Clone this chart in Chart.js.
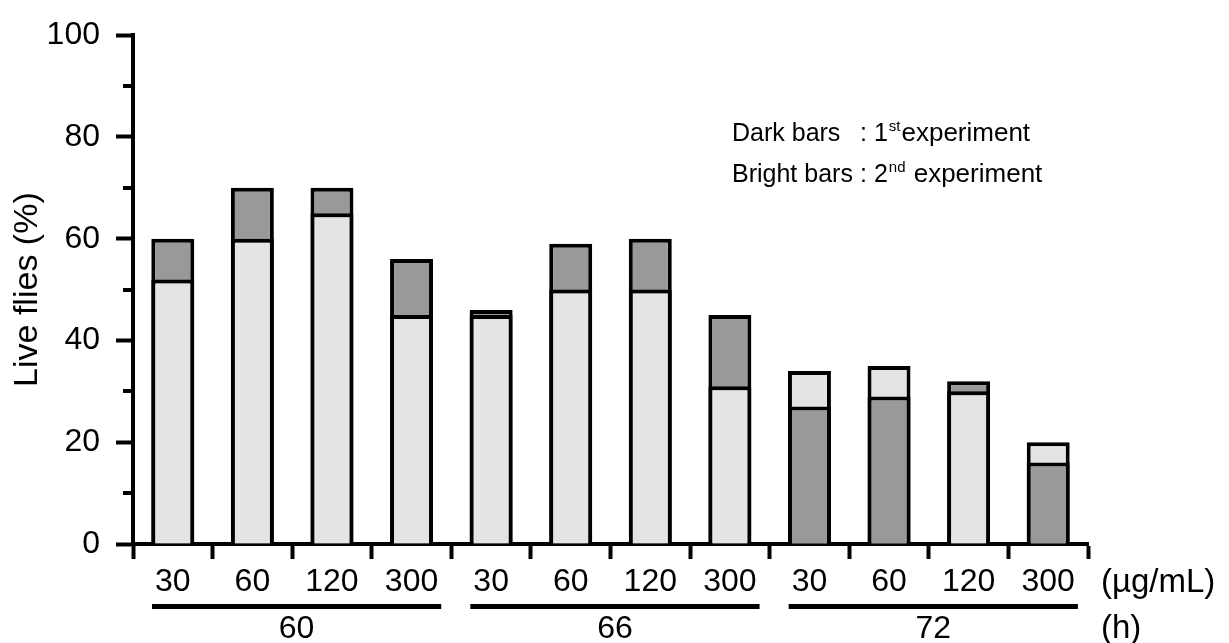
<!DOCTYPE html>
<html>
<head>
<meta charset="utf-8">
<script src="https://cdn.jsdelivr.net/npm/chart.js@4/dist/chart.umd.min.js"></script>
<style>
  html, body { margin: 0; padding: 0; background: #fff; }
  #wrap { width: 1229px; height: 643px; }
</style>
</head>
<body>
<div id="wrap"><canvas id="chart"></canvas></div>
<script>
// values
const doses = ['30', '60', '120', '300', '30', '60', '120', '300', '30', '60', '120', '300'];
const hours = ['60', '66', '72'];
const darkBars = [60, 70, 70, 56, 46, 59, 60, 45, 27, 29, 32, 16];   // 1st experiment
const brightBars = [52, 60, 65, 45, 45, 50, 50, 31, 34, 35, 30, 20]; // 2nd experiment
const yMajor = [0, 20, 40, 60, 80, 100];
const yMinor = [10, 30, 50, 70, 90];

const DARK = '#999999';
const LIGHT = '#e4e4e4';
const FONT = "'Liberation Sans', Arial, sans-serif";

// the taller bar sits behind, the shorter one in front
const backVals = darkBars.map((d, i) => Math.max(d, brightBars[i]));
const frontVals = darkBars.map((d, i) => Math.min(d, brightBars[i]));
const backCols = darkBars.map((d, i) => d >= brightBars[i] ? DARK : LIGHT);
const frontCols = darkBars.map((d, i) => d >= brightBars[i] ? LIGHT : DARK);

const extras = {
    id: 'extras',
    afterDraw(chart) {
        const ctx = chart.ctx;
        const x = chart.scales.x;
        const y = chart.scales.y;
        const area = chart.chartArea;
        ctx.save();
        ctx.strokeStyle = '#000';
        ctx.fillStyle = '#000';

        // minor y ticks
        ctx.lineWidth = 4;
        yMinor.forEach(v => {
            const py = Math.round(y.getPixelForValue(v));
            ctx.beginPath();
            ctx.moveTo(area.left - 10, py);
            ctx.lineTo(area.left, py);
            ctx.stroke();
        });

        // group underline + hour label
        ctx.font = '32px ' + FONT;
        ctx.textBaseline = 'middle';
        ctx.textAlign = 'center';
        hours.forEach((h, g) => {
            const i0 = g * 4, i1 = g * 4 + 3;
            const x0 = x.getPixelForValue(i0) - ctx.measureText(doses[i0]).width / 2 - 3;
            const x1 = x.getPixelForValue(i1) + ctx.measureText(doses[i1]).width / 2 + 3;
            ctx.lineWidth = 5;
            ctx.beginPath();
            ctx.moveTo(x0, area.bottom + 62.5);
            ctx.lineTo(x1, area.bottom + 62.5);
            ctx.stroke();
            ctx.fillText(h, (x0 + x1) / 2, area.bottom + 85);
        });

        // unit labels
        ctx.textAlign = 'left';
        ctx.font = '33px ' + FONT;
        ctx.fillText('(\u00b5g/mL)', area.right + 13, area.bottom + 39);
        ctx.fillText('(h)', area.right + 13, area.bottom + 85);

        // key text
        ctx.textBaseline = 'alphabetic';
        const rows = [
            ['Dark bars', '1', 'st', 'experiment', 141],
            ['Bright bars', '2', 'nd', ' experiment', 182]
        ];
        rows.forEach(r => {
            ctx.font = '25px ' + FONT;
            ctx.fillText(r[0], 732, r[4]);
            let cx = 860;
            ctx.fillText(': ' + r[1], cx, r[4]);
            cx += ctx.measureText(': ' + r[1]).width + 1;
            ctx.font = '15px ' + FONT;
            ctx.fillText(r[2], cx, r[4] - 10);
            cx += ctx.measureText(r[2]).width + 1;
            ctx.font = '26px ' + FONT;
            ctx.fillText(r[3], cx, r[4]);
        });
        ctx.restore();
    }
};

Chart.defaults.font.family = FONT;
Chart.defaults.color = '#000';

new Chart(document.getElementById('chart'), {
    type: 'bar',
    data: {
        labels: doses,
        datasets: [
            {
                label: 'front',
                data: frontVals,
                backgroundColor: frontCols,
                borderColor: '#000',
                borderWidth: 4,
                grouped: false,
                barPercentage: 0.54,
                categoryPercentage: 1
            },
            {
                label: 'back',
                data: backVals,
                backgroundColor: backCols,
                borderColor: '#000',
                borderWidth: 4,
                grouped: false,
                barPercentage: 0.54,
                categoryPercentage: 1
            }
        ]
    },
    options: {
        responsive: true,
        maintainAspectRatio: false,
        animation: false,
        layout: { padding: { top: 29, right: 141, left: 0, bottom: 0 } },
        plugins: {
            legend: { display: false },
            tooltip: { enabled: false }
        },
        scales: {
            x: {
                grid: {
                    offset: true,
                    drawOnChartArea: false,
                    tickLength: 15,
                    tickWidth: 4,
                    tickColor: '#000'
                },
                border: { color: '#000', width: 4 },
                ticks: {
                    font: { size: 32 },
                    padding: 4,
                    maxRotation: 0,
                    autoSkip: false
                },
                afterFit(scale) { scale.height = 99; }
            },
            y: {
                min: 0,
                max: 100,
                afterBuildTicks(scale) { scale.ticks = yMajor.map(v => ({ value: v })); },
                grid: {
                    drawOnChartArea: false,
                    tickLength: 17,
                    tickWidth: 4,
                    tickColor: '#000'
                },
                border: { color: '#000', width: 4 },
                ticks: {
                    font: { size: 32 },
                    padding: 16
                },
                title: {
                    display: true,
                    text: 'Live flies (%)',
                    font: { size: 34, lineHeight: 1 },
                    padding: { top: 11, bottom: 0 }
                },
                afterFit(scale) { scale.width = 133; }
            }
        }
    },
    plugins: [extras]
});
</script>
</body>
</html>
